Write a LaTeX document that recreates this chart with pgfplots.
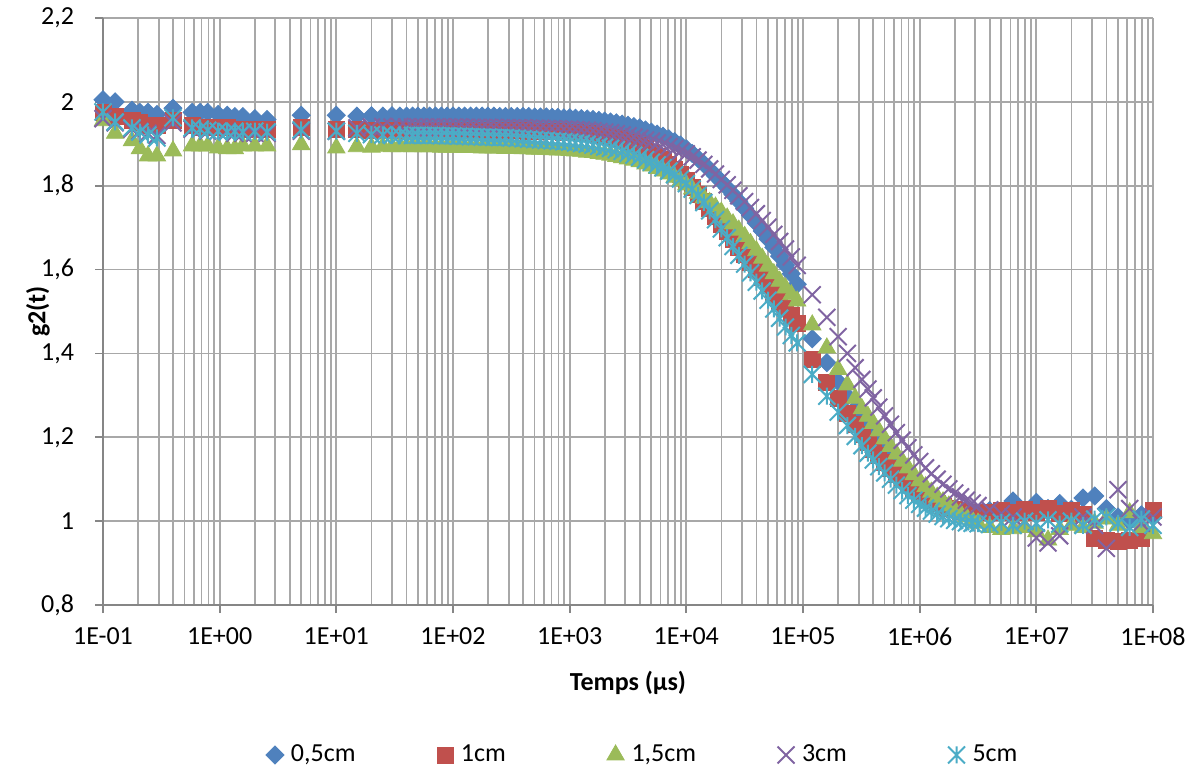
\documentclass[border=0pt]{standalone}
\usepackage{fontspec}
\setmainfont{Carlito}
\usepackage{pgfplots}
\usepackage{pgfplotstable}
\pgfplotsset{compat=1.18}
\definecolor{cBlue}{HTML}{4F81BD}
\definecolor{cRed}{HTML}{C0504D}
\definecolor{cGreen}{HTML}{9BBB59}
\definecolor{cPurple}{HTML}{8064A2}
\definecolor{cCyan}{HTML}{4BACC6}
\definecolor{gridgray}{HTML}{A8A8A8}
\definecolor{axisgray}{HTML}{868686}
\pgfdeclareplotmark{xstar}{%
  \pgfpathmoveto{\pgfqpoint{0pt}{.7071\pgfplotmarksize}}%
  \pgfpathlineto{\pgfqpoint{0pt}{-.7071\pgfplotmarksize}}%
  \pgfpathmoveto{\pgfqpoint{-.7071\pgfplotmarksize}{-.7071\pgfplotmarksize}}%
  \pgfpathlineto{\pgfqpoint{.7071\pgfplotmarksize}{.7071\pgfplotmarksize}}%
  \pgfpathmoveto{\pgfqpoint{-.7071\pgfplotmarksize}{.7071\pgfplotmarksize}}%
  \pgfpathlineto{\pgfqpoint{.7071\pgfplotmarksize}{-.7071\pgfplotmarksize}}%
  \pgfusepathqstroke}

\pgfplotstableread{
t b r g p c
1.000e-1 2.005 1.975 1.955 1.960 1.976
1.270e-1 2.000 1.965 1.925 1.950 1.952
1.770e-1 1.980 1.955 1.907 1.935 1.938
2.070e-1 1.975 1.950 1.888 1.930 1.928
2.430e-1 1.975 1.945 1.871 1.925 1.921
2.900e-1 1.970 1.945 1.871 1.920 1.914
3.980e-1 1.985 1.955 1.883 1.950 1.962
5.800e-1 1.975 1.945 1.895 1.935 1.938
6.800e-1 1.975 1.940 1.895 1.935 1.935
7.900e-1 1.975 1.940 1.895 1.930 1.932
9.700e-1 1.970 1.940 1.890 1.930 1.930
1.160e0 1.968 1.938 1.888 1.930 1.928
1.350e0 1.965 1.935 1.888 1.925 1.930
1.580e0 1.965 1.935 1.895 1.925 1.928
2.000e0 1.960 1.935 1.895 1.925 1.930
2.550e0 1.958 1.935 1.895 1.925 1.928
5.000e0 1.968 1.938 1.898 1.930 1.933
1.000e1 1.968 1.935 1.890 1.930 1.930
1.500e1 1.966 1.934 1.893 1.938 1.925
2.000e1 1.967 1.933 1.892 1.940 1.922
2.500e1 1.966 1.933 1.894 1.941 1.921
3.000e1 1.967 1.932 1.893 1.940 1.920
3.500e1 1.966 1.932 1.893 1.941 1.921
4.000e1 1.966 1.932 1.894 1.940 1.920
4.500e1 1.966 1.932 1.893 1.940 1.920
5.000e1 1.966 1.932 1.893 1.940 1.920
5.623e1 1.966 1.932 1.893 1.940 1.920
6.310e1 1.966 1.932 1.893 1.940 1.920
7.079e1 1.966 1.932 1.893 1.940 1.920
7.943e1 1.966 1.932 1.892 1.940 1.919
8.913e1 1.966 1.932 1.892 1.940 1.919
1.000e2 1.966 1.932 1.892 1.940 1.919
1.122e2 1.966 1.932 1.892 1.940 1.918
1.259e2 1.966 1.932 1.891 1.939 1.918
1.413e2 1.966 1.932 1.891 1.939 1.917
1.585e2 1.966 1.932 1.891 1.939 1.917
1.778e2 1.966 1.932 1.890 1.939 1.916
1.995e2 1.966 1.932 1.890 1.939 1.916
2.239e2 1.966 1.932 1.890 1.939 1.915
2.512e2 1.965 1.932 1.890 1.938 1.915
2.818e2 1.965 1.932 1.889 1.938 1.915
3.162e2 1.965 1.932 1.889 1.938 1.914
3.548e2 1.965 1.931 1.889 1.938 1.913
3.981e2 1.965 1.931 1.888 1.938 1.912
4.467e2 1.965 1.930 1.888 1.937 1.911
5.012e2 1.964 1.930 1.887 1.937 1.910
5.623e2 1.964 1.930 1.887 1.937 1.909
6.310e2 1.964 1.929 1.887 1.936 1.908
7.079e2 1.963 1.929 1.886 1.936 1.907
7.943e2 1.963 1.929 1.885 1.936 1.906
8.913e2 1.962 1.928 1.885 1.935 1.905
1.000e3 1.962 1.928 1.884 1.935 1.904
1.122e3 1.961 1.927 1.883 1.934 1.902
1.259e3 1.960 1.925 1.882 1.933 1.901
1.413e3 1.959 1.924 1.880 1.932 1.899
1.585e3 1.958 1.922 1.879 1.931 1.897
1.778e3 1.956 1.920 1.877 1.929 1.894
1.995e3 1.954 1.917 1.875 1.928 1.892
2.239e3 1.952 1.915 1.873 1.926 1.889
2.512e3 1.950 1.912 1.870 1.924 1.886
2.818e3 1.947 1.908 1.867 1.921 1.882
3.162e3 1.944 1.904 1.864 1.919 1.877
3.548e3 1.941 1.900 1.861 1.916 1.873
3.981e3 1.938 1.895 1.857 1.913 1.868
4.467e3 1.933 1.888 1.852 1.909 1.862
5.012e3 1.928 1.880 1.847 1.906 1.856
5.623e3 1.923 1.871 1.841 1.902 1.850
6.310e3 1.918 1.862 1.835 1.898 1.843
7.079e3 1.912 1.851 1.828 1.893 1.835
7.943e3 1.905 1.840 1.820 1.888 1.826
8.913e3 1.897 1.826 1.811 1.882 1.816
1.000e4 1.888 1.812 1.802 1.876 1.805
1.122e4 1.877 1.796 1.792 1.869 1.792
1.259e4 1.865 1.780 1.782 1.861 1.777
1.413e4 1.852 1.763 1.771 1.851 1.760
1.585e4 1.838 1.745 1.760 1.840 1.740
1.778e4 1.824 1.727 1.749 1.828 1.719
1.995e4 1.810 1.708 1.737 1.815 1.697
2.239e4 1.795 1.690 1.723 1.802 1.676
2.512e4 1.779 1.672 1.709 1.789 1.655
2.818e4 1.763 1.654 1.694 1.776 1.634
3.162e4 1.746 1.636 1.679 1.762 1.613
3.548e4 1.729 1.618 1.662 1.748 1.592
3.981e4 1.711 1.600 1.645 1.733 1.570
4.467e4 1.692 1.581 1.627 1.717 1.549
5.012e4 1.673 1.562 1.608 1.701 1.527
5.623e4 1.653 1.543 1.590 1.684 1.506
6.310e4 1.632 1.525 1.572 1.667 1.484
7.079e4 1.611 1.507 1.556 1.649 1.463
7.943e4 1.590 1.490 1.540 1.630 1.443
8.913e4 1.565 1.472 1.525 1.610 1.425
1.200e5 1.435 1.385 1.468 1.540 1.350
1.600e5 1.378 1.332 1.413 1.486 1.298
2.000e5 1.333 1.292 1.362 1.440 1.260
2.400e5 1.298 1.258 1.325 1.400 1.228
2.800e5 1.268 1.230 1.293 1.366 1.202
3.200e5 1.243 1.206 1.268 1.338 1.180
3.600e5 1.222 1.188 1.250 1.315 1.162
4.000e5 1.203 1.172 1.233 1.294 1.146
4.467e5 1.185 1.156 1.215 1.272 1.130
5.012e5 1.167 1.140 1.196 1.251 1.115
5.623e5 1.150 1.126 1.178 1.231 1.100
6.310e5 1.135 1.112 1.160 1.211 1.086
7.079e5 1.120 1.099 1.143 1.193 1.073
7.943e5 1.106 1.087 1.127 1.175 1.061
8.913e5 1.093 1.076 1.111 1.158 1.050
1.000e6 1.081 1.066 1.096 1.142 1.040
1.122e6 1.070 1.057 1.082 1.127 1.031
1.259e6 1.060 1.049 1.069 1.113 1.024
1.413e6 1.051 1.042 1.057 1.100 1.017
1.585e6 1.043 1.036 1.046 1.088 1.011
1.778e6 1.036 1.031 1.036 1.077 1.006
1.995e6 1.030 1.027 1.027 1.067 1.002
2.239e6 1.026 1.024 1.018 1.058 0.999
2.512e6 1.022 1.022 1.010 1.050 0.996
2.818e6 1.020 1.021 1.002 1.043 0.995
3.162e6 1.018 1.020 0.995 1.037 0.994
3.981e6 1.025 1.022 0.985 1.027 0.992
5.012e6 1.022 1.025 0.980 1.018 0.997
6.310e6 1.048 1.020 0.982 1.010 0.990
7.943e6 1.025 1.028 0.985 1.000 1.000
1.000e7 1.045 1.022 0.975 0.960 0.995
1.259e7 1.030 1.030 0.955 0.948 1.003
1.585e7 1.042 1.018 0.980 0.965 0.993
1.995e7 1.028 1.025 0.990 1.000 1.000
2.512e7 1.055 1.015 0.985 1.010 0.990
3.162e7 1.060 0.960 0.995 0.990 1.005
3.981e7 1.030 0.955 1.005 0.935 1.010
5.012e7 1.010 0.952 0.990 1.075 0.995
6.310e7 1.000 0.955 1.020 1.030 0.985
7.943e7 1.015 0.960 0.985 0.995 1.005
1.000e8 1.010 1.026 0.970 1.010 0.990
}\data

\begin{document}
\begin{tikzpicture}[x=1pt,y=1pt]
\begin{axis}[
  at={(51.5pt,83pt)}, anchor=south west,
  scale only axis, width=525pt, height=293.5pt,
  xmode=log, log basis x=10,
  xmin=0.1, xmax=1e8, ymin=0.8, ymax=2.2,
  xtick={1e-1,1e0,1e1,1e2,1e3,1e4,1e5,1e6,1e7,1e8},
  xticklabels={1E-01,1E+00,1E+01,1E+02,1E+03,1E+04,1E+05,1E+06,1E+07,1E+08},
  minor xtick={0.2,0.3,0.4,0.5,0.6,0.7,0.8,0.9,
    2,3,4,5,6,7,8,9,
    20,30,40,50,60,70,80,90,
    200,300,400,500,600,700,800,900,
    2000,3000,4000,5000,6000,7000,8000,9000,
    2e4,3e4,4e4,5e4,6e4,7e4,8e4,9e4,
    2e5,3e5,4e5,5e5,6e5,7e5,8e5,9e5,
    2e6,3e6,4e6,5e6,6e6,7e6,8e6,9e6,
    2e7,3e7,4e7,5e7,6e7,7e7,8e7,9e7},
  ytick={0.8,1.0,1.2,1.4,1.6,1.8,2.0,2.2},
  /pgf/number format/assume math mode=true,
  yticklabel style={/pgf/number format/use comma, /pgf/number format/fixed, /pgf/number format/precision=1, xshift=-7pt},
  xticklabel style={yshift=-4pt},
  xmajorgrids, xminorgrids, ymajorgrids,
  major grid style={draw=gridgray, line width=0.85pt},
  minor grid style={draw=gridgray, line width=0.85pt},
  axis x line*=bottom, axis y line*=left,
  axis line style={draw=axisgray, line width=0.85pt},
  tick align=outside, major tick length=4pt, minor tick length=0pt,
  major tick style={draw=axisgray, line width=0.85pt},
  tick label style={font=\fontsize{13}{15}\selectfont, text=black},
  clip=false,
  xlabel={\textbf{Temps (µs)}}, ylabel={\textbf{g2(t)}},
  label style={font=\fontsize{13}{15}\selectfont},
  xlabel style={at={(axis description cs:0.5,-0.133)}, anchor=center},
  ylabel style={at={(axis description cs:-0.062,0.5)}, anchor=center},
  legend columns=5,
  legend image code/.code={\path[draw=none,fill=none] (0pt,0pt) rectangle (10pt,0pt); \draw[#1] plot coordinates {(4pt,0pt)};},
  legend style={draw=none, fill=none, font=\fontsize{13}{15}\selectfont,
    at={(axis description cs:0.149,-0.2555)}, anchor=west,
    /tikz/every even column/.append style={column sep=33pt}},
]
\addplot[only marks, mark=square*, mark size=3.2pt, mark options={rotate=45, draw=cBlue, fill=cBlue}] table[x=t,y=b] {\data};
\addlegendentry{\makebox[38pt][l]{0,5cm}}
\addplot[only marks, mark=square*, mark size=4.0pt, mark options={draw=cRed, fill=cRed}] table[x=t,y=r] {\data};
\addlegendentry{\makebox[38pt][l]{1cm}}
\addplot[only marks, mark=triangle*, mark size=5.0pt, mark options={draw=cGreen, fill=cGreen}] table[x=t,y=g] {\data};
\addlegendentry{\makebox[38pt][l]{1,5cm}}
\addplot[only marks, mark=x, mark size=6.0pt, mark options={draw=cPurple, line width=1pt}] table[x=t,y=p] {\data};
\addlegendentry{\makebox[38pt][l]{3cm}}
\addplot[only marks, mark=xstar, mark size=6.0pt, mark options={draw=cCyan, line width=1pt}] table[x=t,y=c] {\data};
\addlegendentry{\makebox[38pt][l]{5cm}}
\end{axis}
\pgfresetboundingbox
\path[use as bounding box] (0,0) rectangle (598.5,385.5);
\end{tikzpicture}
\end{document}
